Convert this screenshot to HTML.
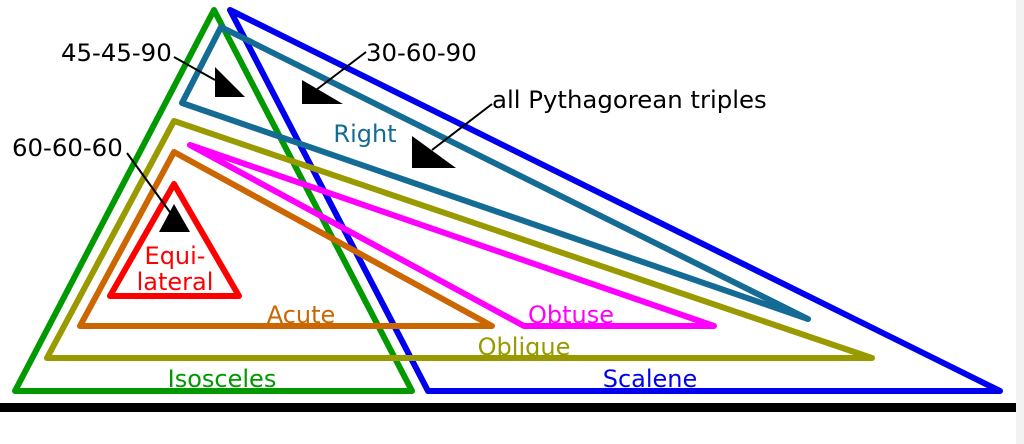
<!DOCTYPE html>
<html><head><style>body{margin:0;background:#fff}svg{display:block}</style></head><body>
<svg width="1024" height="444" viewBox="0 0 1024 444" xmlns="http://www.w3.org/2000/svg" font-family="'DejaVu Sans','Liberation Sans',sans-serif">
<rect x="1016" y="0" width="8" height="444" fill="#f2f2f2"/>
<g fill="none" stroke-width="6" stroke-linejoin="round" stroke-linecap="round">
<polygon points="214,10 15,391 412,391" stroke="#009900"/>
<polygon points="230,10 428,391 1000,391" stroke="#0000ee"/>
<polygon points="221,27 182,103 808,319" stroke="#146c94"/>
<polygon points="174,121 47,358 872,358" stroke="#999900"/>
<polygon points="174,152 80,326 492,326" stroke="#cc6600"/>
<polygon points="190,145 524,326 714,326" stroke="#ff00ff"/>
<polygon points="174,184 110,296 239,296" stroke="#ff0000"/>
</g>
<rect x="0" y="403" width="1016" height="9" fill="#000"/>
<g fill="#000">
<polygon points="215,67 215,97 245,97"/>
<polygon points="302,80 302,104 343,104"/>
<polygon points="412,136 412,168 456,168"/>
<polygon points="174,204 159,232 190,232"/>
</g>
<g stroke="#000" stroke-width="2">
<line x1="174" y1="57" x2="215" y2="80"/>
<line x1="366" y1="52" x2="316" y2="90"/>
<line x1="492" y1="104" x2="432" y2="150"/>
<line x1="127" y1="153" x2="172" y2="215"/>
</g>
<g font-size="24.4" fill="#000">
<text x="61" y="61">45-45-90</text>
<text x="366" y="61">30-60-90</text>
<text x="492" y="108">all Pythagorean triples</text>
<text x="12" y="156">60-60-60</text>
</g>
<g font-size="24" text-anchor="middle">
<text x="365" y="142" fill="#146c94">Right</text>
<text x="175" y="264" fill="#ff0000">Equi-</text>
<text x="175" y="290" fill="#ff0000">lateral</text>
<text x="301" y="323" fill="#cc6600">Acute</text>
<text x="571" y="323" fill="#ff00ff">Obtuse</text>
<text x="524" y="355" fill="#999900">Oblique</text>
<text x="222" y="387" fill="#009900">Isosceles</text>
<text x="650" y="387" fill="#0000ee">Scalene</text>
</g>
</svg>
</body></html>
